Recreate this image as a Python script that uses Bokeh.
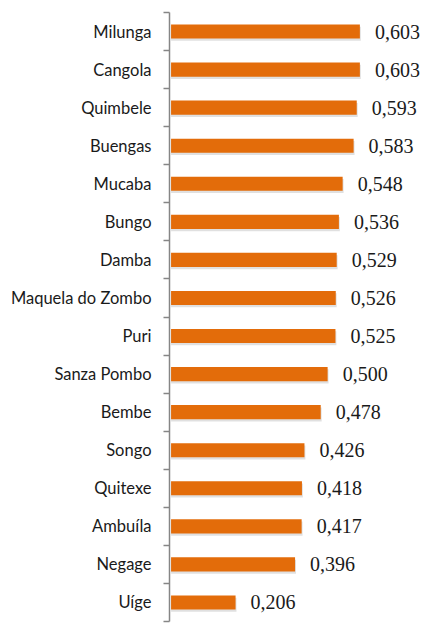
from bokeh.plotting import figure
from bokeh.models import ColumnDataSource, Range1d, FixedTicker, LabelSet
from bokeh.transform import dodge
from bokeh.embed import file_html
from bokeh.resources import INLINE

categories = ["Milunga", "Cangola", "Quimbele", "Buengas", "Mucaba", "Bungo", "Damba",
              "Maquela do Zombo", "Puri", "Sanza Pombo", "Bembe", "Songo", "Quitexe",
              "Ambuíla", "Negage", "Uíge"]
values = [0.603, 0.603, 0.593, 0.583, 0.548, 0.536, 0.529, 0.526, 0.525, 0.500,
          0.478, 0.426, 0.418, 0.417, 0.396, 0.206]

n = len(categories)
ypos = [n - 1 - i for i in range(n)]
labels = [f"{v:.3f}".replace(".", ",") for v in values]

src = ColumnDataSource(dict(y=ypos, value=values, label=labels, cat=categories))

p = figure(width=422, height=623, output_backend="svg", toolbar_location=None,
           x_range=Range1d(-0.005, 0.803), y_range=Range1d(-0.5, n - 0.5),
           min_border_left=169, min_border_right=0, min_border_top=12, min_border_bottom=2)

p.outline_line_color = None
p.xgrid.visible = False
p.ygrid.visible = False
p.xaxis.visible = False

# subtle shadow
p.hbar(y=dodge("y", -0.06, range=p.y_range), left=0, right=dodge("value", 0.003, range=p.x_range),
       height=0.37, source=src, fill_color="#000000", fill_alpha=0.12, line_color=None)
p.hbar(y="y", left=0, right="value", height=0.37, source=src,
       fill_color="#E36C0A", line_color=None)

p.add_layout(LabelSet(x="value", y="y", text="label", source=src, x_offset=15,
                      text_baseline="middle", text_align="left",
                      text_font="Lato", text_font_size="20px", text_color="#1a1a1a"))

ax = p.yaxis[0]
ax.ticker = FixedTicker(ticks=ypos, minor_ticks=[v - 0.5 for v in range(n + 1)])
ax.major_label_overrides = {y: c for y, c in zip(ypos, categories)}
ax.major_label_text_font = "Lato"
ax.major_label_text_font_size = "16.5px"
ax.major_label_text_color = "#1a1a1a"
ax.major_label_standoff = 12
ax.major_tick_out = 0
ax.major_tick_in = 0
ax.minor_tick_out = 6
ax.minor_tick_in = 0
ax.minor_tick_line_color = "#868686"
ax.minor_tick_line_width = 1.5
ax.axis_line_color = "#868686"
ax.axis_line_width = 1.5

open("out.html", "w").write(file_html(p, INLINE))
